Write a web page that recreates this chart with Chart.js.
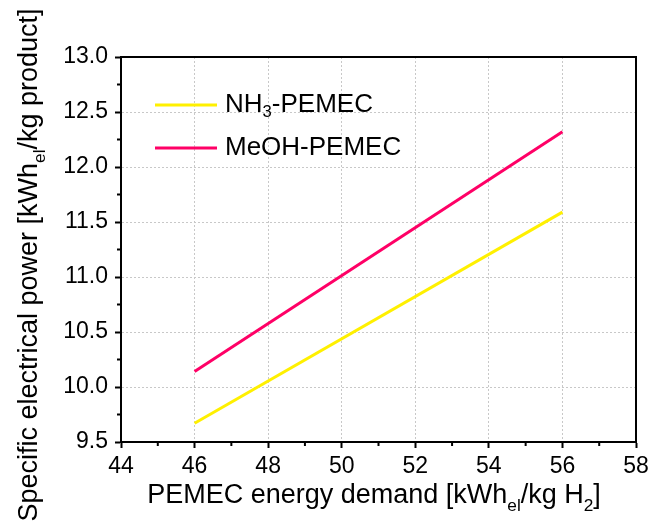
<!DOCTYPE html>
<html>
<head>
<meta charset="utf-8">
<script src="https://cdn.jsdelivr.net/npm/chart.js@4"></script>
<style>
  body { margin: 0; background: #fff; }
  canvas { display: block; }
</style>
</head>
<body>
<canvas id="myChart" width="649" height="525"></canvas>
<script>
const ctx = document.getElementById('myChart');

const demand = [46, 56];
const nh3 = [9.67, 11.59];
const meoh = [10.14, 12.32];
const seriesNames = ['NH3-PEMEC', 'MeOH-PEMEC'];

const FONT = '"Liberation Sans", Arial, sans-serif';

// draws text with subscripts, parts = [[text, isSub], ...]
function richText(c, parts, x, y, size, align) {
  const subSize = size * 0.64;
  let total = 0;
  parts.forEach(p => {
    c.font = (p[1] ? subSize : size) + 'px ' + FONT;
    total += c.measureText(p[0]).width;
  });
  let cx = align === 'center' ? x - total / 2 : x;
  c.textAlign = 'left';
  parts.forEach(p => {
    c.font = (p[1] ? subSize : size) + 'px ' + FONT;
    c.fillText(p[0], cx, p[1] ? y + size * 0.3 : y);
    cx += c.measureText(p[0]).width;
  });
}

const extras = {
  id: 'extras',
  afterDraw(chart) {
    const c = chart.ctx;
    const a = chart.chartArea;
    const xs = chart.scales.x, ys = chart.scales.y;
    c.save();
    c.strokeStyle = '#000';
    c.lineWidth = 2;
    // top and right frame
    c.beginPath();
    c.moveTo(a.left, a.top); c.lineTo(a.right, a.top); c.lineTo(a.right, a.bottom);
    c.stroke();
    // minor ticks
    c.beginPath();
    for (let v = 45; v < 58; v += 2) {
      const px = xs.getPixelForValue(v);
      c.moveTo(px, a.bottom); c.lineTo(px, a.bottom + 4);
    }
    for (let v = 9.75; v < 13; v += 0.5) {
      const py = ys.getPixelForValue(v);
      c.moveTo(a.left, py); c.lineTo(a.left - 4, py);
    }
    c.stroke();

    // legend
    const colors = chart.data.datasets.map(d => d.borderColor);
    const legY = [105, 148];
    c.fillStyle = '#000';
    c.textBaseline = 'middle';
    colors.forEach((col, i) => {
      c.strokeStyle = col;
      c.lineWidth = 3;
      c.beginPath();
      c.moveTo(155, legY[i]); c.lineTo(217, legY[i]);
      c.stroke();
    });
    richText(c, [['NH', false], ['3', true], ['-PEMEC', false]], 225, legY[0], 26, 'left');
    richText(c, [['MeOH-PEMEC', false]], 225, legY[1], 26, 'left');

    // axis titles
    c.textBaseline = 'alphabetic';
    richText(c, [['PEMEC energy demand [kWh', false], ['el', true], ['/kg H', false], ['2', true], [']', false]],
      374, 503, 27, 'center');
    c.translate(37, 265);
    c.rotate(-Math.PI / 2);
    richText(c, [['Specific electrical power [kWh', false], ['el', true], ['/kg product]', false]],
      0, 0, 27, 'center');
    c.restore();
  }
};

const tickFont = { family: FONT, size: 23 };

new Chart(ctx, {
  type: 'line',
  data: {
    datasets: [{
      label: seriesNames[0],
      data: demand.map((x, i) => ({ x: x, y: nh3[i] })),
      borderColor: '#FFF000',
      borderWidth: 3,
      pointRadius: 0
    }, {
      label: seriesNames[1],
      data: demand.map((x, i) => ({ x: x, y: meoh[i] })),
      borderColor: '#FF0066',
      borderWidth: 3,
      pointRadius: 0
    }]
  },
  options: {
    responsive: false,
    animation: false,
    layout: { padding: { top: 57, right: 13, left: 0, bottom: 0 } },
    plugins: { legend: { display: false }, tooltip: { enabled: false } },
    scales: {
      x: {
        type: 'linear',
        min: 44,
        max: 58,
        afterFit(scale) { scale.height = 83; scale.paddingLeft = 0; scale.paddingRight = 0; },
        ticks: { stepSize: 2, font: tickFont, color: '#000', padding: 5 },
        grid: { color: '#c8c8c8', lineWidth: 1, tickColor: '#000', tickWidth: 2, tickLength: 6 },
        border: { color: '#000', width: 2, dash: [2, 2] }
      },
      y: {
        min: 9.5,
        max: 13,
        afterFit(scale) { scale.width = 121; scale.paddingTop = 0; scale.paddingBottom = 0; },
        ticks: { stepSize: 0.5, font: tickFont, color: '#000', padding: 7, callback: v => v.toFixed(1) },
        grid: { color: '#c8c8c8', lineWidth: 1, tickColor: '#000', tickWidth: 2, tickLength: 6 },
        border: { color: '#000', width: 2, dash: [2, 2] }
      }
    }
  },
  plugins: [extras]
});
</script>
</body>
</html>
